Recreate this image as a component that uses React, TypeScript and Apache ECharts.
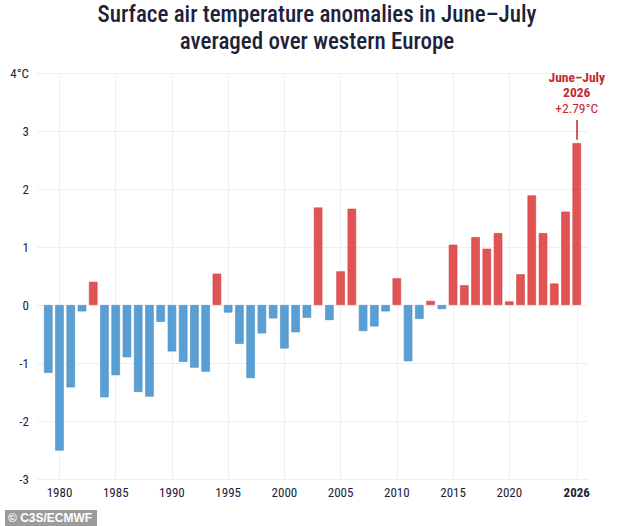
import React, { useEffect, useRef } from "react";
import * as echarts from "echarts";

const years: number[] = [
  1979, 1980, 1981, 1982, 1983, 1984, 1985, 1986, 1987, 1988, 1989, 1990,
  1991, 1992, 1993, 1994, 1995, 1996, 1997, 1998, 1999, 2000, 2001, 2002,
  2003, 2004, 2005, 2006, 2007, 2008, 2009, 2010, 2011, 2012, 2013, 2014,
  2015, 2016, 2017, 2018, 2019, 2020, 2021, 2022, 2023, 2024, 2025, 2026,
];

const anomalies: number[] = [
  -1.17, -2.51, -1.42, -0.11, 0.4, -1.59, -1.21, -0.9, -1.5, -1.58, -0.29, -0.8,
  -0.98, -1.08, -1.15, 0.54, -0.13, -0.67, -1.26, -0.49, -0.23, -0.75, -0.47, -0.22,
  1.68, -0.26, 0.58, 1.66, -0.45, -0.37, -0.11, 0.46, -0.97, -0.24, 0.07, -0.07,
  1.04, 0.34, 1.17, 0.97, 1.24, 0.06, 0.53, 1.89, 1.24, 0.37, 1.61, 2.79,
];

const xTickYears: number[] = [1980, 1985, 1990, 1995, 2000, 2005, 2010, 2015, 2020, 2026];
const yTicks: number[] = [-3, -2, -1, 0, 1, 2, 3, 4];

const titleLines: string[] = [
  "Surface air temperature anomalies in June–July",
  "averaged over western Europe",
];
const highlightYear = 2026;
const highlightPeriod = "June–July";
const credit = "© C3S/ECMWF";

const BLUE = "#5a9fd4";
const BLUE_BORDER = "#4b8dc6";
const RED = "#e25353";
const RED_BORDER = "#cc4343";
const ANNOT = "#c4282e";
const TEXT = "#1d2238";
const GRID = "#efefef";
const FONT = "'Roboto Condensed', Roboto, 'Noto Sans', sans-serif";

export default function App() {
  const ref = useRef<HTMLDivElement>(null);

  useEffect(() => {
    document.body.style.margin = "0";
    if (!ref.current) return;
    const chart = echarts.init(ref.current, undefined, { renderer: "svg" });

    const barData = years.map((y, i) => {
      const v = anomalies[i];
      const pos = v >= 0;
      const item: any = {
        value: [y, v],
        itemStyle: {
          color: pos ? RED : BLUE,
          borderColor: pos ? RED_BORDER : BLUE_BORDER,
          borderWidth: 0.6,
        },
      };
      if (y === highlightYear) {
        item.label = {
          show: true,
          position: "top",
          distance: 27,
          formatter: `{a|${highlightPeriod}}\n{a|${highlightYear}}\n{b|+${v.toFixed(2)}°C}`,
          rich: {
            a: { fontFamily: FONT, fontSize: 13.5, fontWeight: "bold", color: ANNOT, lineHeight: 15, align: "center" },
            b: { fontFamily: FONT, fontSize: 13.5, fontWeight: "normal", color: ANNOT, lineHeight: 17, align: "center" },
          },
        };
      }
      return item;
    });

    const lastVal = anomalies[anomalies.length - 1];

    chart.setOption({
      animation: false,
      backgroundColor: "#ffffff",
      textStyle: { fontFamily: FONT },
      title: {
        text: titleLines.join("\n"),
        left: "center",
        top: -4,
        textStyle: {
          fontFamily: FONT,
          fontSize: 23,
          fontWeight: 500,
          color: TEXT,
          lineHeight: 27,
        },
      },
      grid: { left: 37, right: 46, top: 73, bottom: 47 },
      xAxis: {
        type: "value",
        min: 1978,
        max: 2027,
        interval: 1,
        axisLine: { show: false },
        axisTick: { show: false },
        splitLine: { show: false },
        axisLabel: {
          margin: 7,
          fontFamily: FONT,
          fontSize: 13,
          color: TEXT,
          formatter: (v: number) => {
            if (!xTickYears.includes(v)) return "";
            return v === highlightYear ? `{b|${v}}` : String(v);
          },
          rich: {
            b: { fontFamily: FONT, fontSize: 13, fontWeight: "bold", color: TEXT },
          },
        },
      },
      yAxis: {
        type: "value",
        min: yTicks[0],
        max: yTicks[yTicks.length - 1],
        interval: 1,
        axisLine: { show: false },
        axisTick: { show: false },
        splitLine: { show: true, lineStyle: { color: GRID, width: 1 } },
        axisLabel: {
          margin: 8,
          fontFamily: FONT,
          fontSize: 13,
          color: TEXT,
          formatter: (v: number) => (v === yTicks[yTicks.length - 1] ? `${v}°C` : String(v)),
        },
      },
      series: [
        {
          type: "line",
          data: [],
          silent: true,
          z: 0,
          markLine: {
            silent: true,
            z: 0,
            symbol: "none",
            label: { show: false },
            lineStyle: { color: GRID, width: 1, type: "solid" },
            data: xTickYears.map((y) => ({ xAxis: y })),
          },
        },
        {
          type: "bar",
          barWidth: 8.5,
          z: 2,
          data: barData,
          markLine: {
            silent: true,
            z: 3,
            symbol: "none",
            label: { show: false },
            lineStyle: { color: ANNOT, width: 1.5, type: "solid" },
            data: [
              [
                { coord: [highlightYear, lastVal + 0.06] },
                { coord: [highlightYear, lastVal + 0.4] },
              ],
            ],
          },
        },
      ],
      graphic: [
        {
          type: "group",
          left: 5,
          top: 510,
          children: [
            { type: "rect", shape: { x: 0, y: 0, width: 92, height: 16 }, style: { fill: "#9b9b9b" } },
            {
              type: "text",
              x: 3,
              y: 8,
              style: {
                text: credit,
                fill: "#ffffff",
                fontFamily: "'Liberation Sans', Arial, sans-serif",
                fontWeight: "bold",
                fontSize: 12,
                verticalAlign: "middle",
              },
            },
          ],
        },
      ],
    });

    return () => chart.dispose();
  }, []);

  return <div ref={ref} style={{ width: 634, height: 526 }} />;
}
